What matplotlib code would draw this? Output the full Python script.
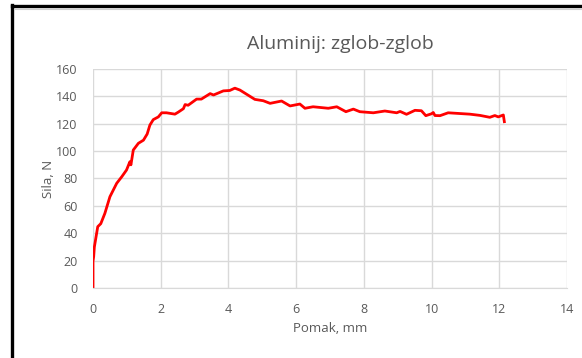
import matplotlib
matplotlib.use("Agg")
import matplotlib.pyplot as plt
from matplotlib.lines import Line2D

plt.rcParams["font.family"] = ["Open Sans", "DejaVu Sans"]

# pomak (mm) vs sila (N)
pomak = [0.0, 0.0, 0.02, 0.04, 0.14, 0.23, 0.35, 0.50, 0.70, 0.85, 0.99, 1.09, 1.12, 1.19,
         1.34, 1.49, 1.60, 1.68, 1.78, 1.93, 2.03, 2.17, 2.42, 2.52, 2.67, 2.72, 2.81, 3.06,
         3.20, 3.46, 3.56, 3.85, 4.04, 4.19, 4.34, 4.78, 5.03, 5.23, 5.57, 5.82, 6.11, 6.26,
         6.50, 6.95, 7.20, 7.47, 7.69, 7.88, 8.28, 8.62, 8.97, 9.07, 9.26, 9.51, 9.70, 9.83,
         10.00, 10.05, 10.10, 10.25, 10.49, 11.13, 11.43, 11.72, 11.87, 11.97, 12.12, 12.15]
sila = [0.0, 19.5, 23.0, 30.0, 44.8, 47.0, 54.5, 66.7, 76.5, 81.3, 86.2, 92.3, 90.0, 100.8,
        105.7, 108.0, 112.5, 119.0, 123.0, 125.0, 128.0, 128.0, 127.0, 128.5, 131.0, 134.0, 133.5, 138.0,
        138.0, 142.0, 141.0, 144.0, 144.3, 146.0, 144.6, 137.8, 136.8, 134.9, 136.6, 133.0, 134.4, 131.3,
        132.4, 131.3, 132.4, 128.8, 130.7, 128.8, 128.0, 129.3, 128.0, 129.0, 126.9, 129.8, 129.5, 125.9,
        127.3, 128.2, 126.0, 125.9, 128.0, 127.0, 126.1, 124.7, 126.0, 125.0, 126.4, 121.5]

title = "Aluminij: zglob-zglob"
xlabel = "Pomak, mm"
ylabel = "Sila, N"
xticks = list(range(0, 15, 2))
yticks = list(range(0, 161, 20))

GREY = "#595959"
GRID = "#d9d9d9"

fig = plt.figure(figsize=(5.82, 3.58), dpi=100)
fig.patch.set_facecolor("white")
ax = fig.add_axes([0.1598, 0.1955, 0.8144, 0.6118])

ax.plot(pomak, sila, color="#ff0000", lw=2.0, solid_joinstyle="round")
ax.set_xlim(0, 14)
ax.set_ylim(0, 160)
ax.set_xticks(xticks)
ax.set_yticks(yticks)
ax.grid(True, color=GRID, lw=1.0)
ax.set_axisbelow(True)
for s in ax.spines.values():
    s.set_visible(False)
ax.spines["bottom"].set_visible(True)
ax.spines["bottom"].set_color(GRID)
ax.tick_params(length=0, colors=GREY, labelsize=9, pad=11)
ax.set_xlabel(xlabel, color=GREY, fontsize=9.5, labelpad=4)
ax.set_ylabel(ylabel, color=GREY, fontsize=9.5, labelpad=1)

fig.text(0.585, 0.877, title, color=GREY, fontsize=14, ha="center", va="center")

# black frame on left and top (screenshot edge)
fig.add_artist(Line2D([0.0199, 0.0199], [0, 0.986], transform=fig.transFigure, color="black", lw=2.4))
fig.add_artist(Line2D([0.0199, 1.0], [0.982, 0.982], transform=fig.transFigure, color="black", lw=2.4))
fig.add_artist(Line2D([0.024, 1.0], [0.974, 0.974], transform=fig.transFigure, color="#d0d0d0", lw=0.8))

fig.savefig("out.png", dpi=100)
